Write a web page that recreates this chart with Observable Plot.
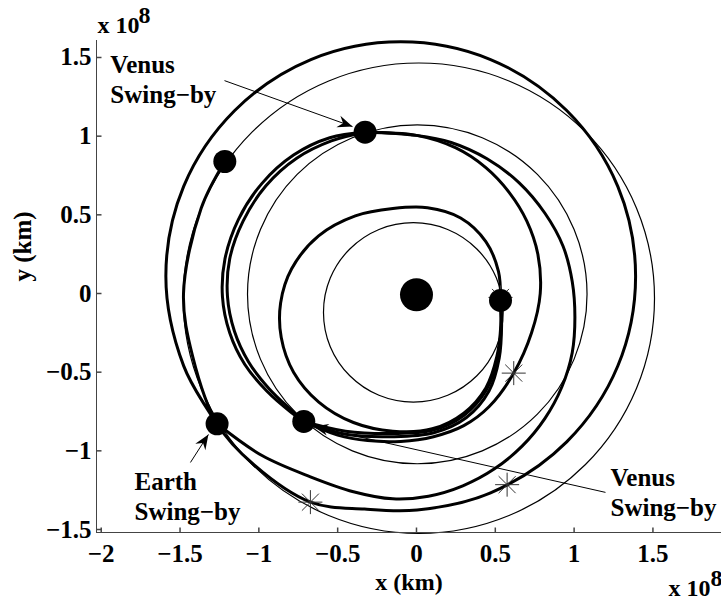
<!DOCTYPE html>
<html><head><meta charset="utf-8">
<script src="https://cdn.jsdelivr.net/npm/d3@7"></script>
<script src="https://cdn.jsdelivr.net/npm/@observablehq/plot@0.6"></script>
<style>
html,body{margin:0;padding:0;background:#fff;}
#chart svg{display:block;}
</style></head><body><div id="chart"></div>
<script>
// ---- data (units: 1e8 km) ----
const xTicks = [-2, -1.5, -1, -0.5, 0, 0.5, 1, 1.5];
const yTicks = [-1.5, -1, -0.5, 0, 0.5, 1, 1.5];

// planet orbits (thin)
const mercuryOrbit = [[0.550,-0.120],[0.507,0.098],[0.383,0.283],[0.198,0.407],[-0.020,0.450],[-0.238,0.407],[-0.423,0.283],[-0.547,0.098],[-0.590,-0.120],[-0.547,-0.338],[-0.423,-0.523],[-0.238,-0.647],[-0.020,-0.690],[0.198,-0.647],[0.383,-0.523],[0.507,-0.338]];
const venusOrbit = [[1.082,-0.005],[1.000,0.407],[0.767,0.757],[0.417,0.990],[0.005,1.072],[-0.407,0.990],[-0.757,0.757],[-0.990,0.407],[-1.072,-0.005],[-0.990,-0.417],[-0.757,-0.767],[-0.407,-1.000],[0.005,-1.082],[0.417,-1.000],[0.767,-0.767],[1.000,-0.417]];
const earthOrbit = [[1.510,-0.030],[1.396,0.542],[1.072,1.027],[0.587,1.351],[0.015,1.465],[-0.557,1.351],[-1.042,1.027],[-1.366,0.542],[-1.480,-0.030],[-1.366,-0.602],[-1.042,-1.087],[-0.557,-1.411],[0.015,-1.525],[0.587,-1.411],[1.072,-1.087],[1.396,-0.602]];

// spacecraft trajectory legs (thick)
const legLaunch = [[-1.216,0.839],[-1.366,0.542],[-1.478,0.0],[-1.420,-0.400],[-1.265,-0.828],[-1.030,-1.090],[-0.673,-1.326],[-0.330,-1.370],[0.004,-1.376],[0.470,-1.267],[0.953,-0.943],[1.277,-0.461],[1.390,0.110],[1.277,0.681],[0.953,1.163],[0.470,1.487],[-0.100,1.600],[-0.670,1.487],[-1.153,1.163],[-1.477,0.681],[-1.590,0.110],[-1.477,-0.460],[-1.265,-0.828]];
const legEarthVenus = [[-1.265,-0.828],[-0.980,-1.030],[-0.673,-1.165],[-0.400,-1.260],[-0.150,-1.305],[0.076,-1.288],[0.294,-1.222],[0.495,-1.114],[0.670,-0.970],[0.814,-0.795],[0.922,-0.594],[0.988,-0.376],[1.005,-0.150],[0.988,0.076],[0.930,0.300],[0.815,0.510],[0.650,0.705],[0.450,0.855],[0.220,0.960],[0.0,1.005],[-0.326,1.025]];
const legVenusVenusA = [[-0.326,1.025],[-0.550,0.990],[-0.780,0.880],[-0.980,0.700],[-1.130,0.470],[-1.215,0.220],[-1.231,-0.020],[-1.185,-0.250],[-1.090,-0.450],[-0.950,-0.620],[-0.800,-0.752],[-0.715,-0.813]];
const legVenusVenusB = [[-0.326,1.025],[-0.540,0.970],[-0.760,0.860],[-0.955,0.685],[-1.100,0.460],[-1.185,0.220],[-1.199,-0.020],[-1.155,-0.240],[-1.065,-0.435],[-0.935,-0.605],[-0.790,-0.745],[-0.715,-0.813]];
const legVenusReturn = [[-0.715,-0.813],[-0.500,-0.900],[-0.310,-0.935],[-0.100,-0.940],[0.108,-0.910],[0.300,-0.840],[0.460,-0.720],[0.617,-0.506],[0.730,-0.250],[0.785,0.0],[0.770,0.250],[0.700,0.460],[0.590,0.640],[0.440,0.800],[0.250,0.925],[0.0,1.005],[-0.326,1.025]];
const legVenusMercuryA = [[-0.715,-0.813],[-0.450,-0.875],[-0.150,-0.890],[0.100,-0.870],[0.300,-0.775],[0.445,-0.610],[0.515,-0.410],[0.537,-0.200],[0.533,-0.044]];
const legVenusMercuryB = [[-0.715,-0.813],[-0.450,-0.895],[-0.150,-0.910],[0.110,-0.885],[0.315,-0.790],[0.460,-0.620],[0.525,-0.410],[0.540,-0.200],[0.533,-0.044]];
const legMercuryLoop = [[0.533,-0.044],[0.520,0.140],[0.440,0.330],[0.280,0.480],[0.070,0.545],[-0.150,0.540],[-0.388,0.493],[-0.621,0.366],[-0.792,0.157],[-0.862,-0.060],[-0.858,-0.280],[-0.780,-0.500],[-0.620,-0.690],[-0.400,-0.820],[-0.150,-0.875],[0.100,-0.860],[0.300,-0.760],[0.440,-0.600],[0.510,-0.400],[0.535,-0.200],[0.533,-0.044]];

// bodies (filled circles)
const bodyNames = ["Sun", "Earth (launch)", "Earth swing-by", "Venus swing-by 1", "Venus swing-by 2", "Mercury"];
const bodyX = [0, -1.216, -1.265, -0.326, -0.715, 0.533];
const bodyY = [-0.008, 0.839, -0.828, 1.025, -0.813, -0.044];

// asterisk markers
const starX = [0.617, 0.575, -0.673, 0.533];
const starY = [-0.506, -1.215, -1.326, -0.025];

// annotations
const noteText = ["Venus\nSwing\u2212by", "Earth\nSwing\u2212by", "Venus\nSwing\u2212by"];
const noteX = [-1.942, -1.789, 1.231];
const noteY = [1.209, -1.442, -1.417];
const arrowX1 = [-1.218, -1.434, 1.199];
const arrowY1 = [1.353, -1.074, -1.264];
const arrowX2 = [-0.406, -1.320, -0.654];
const arrowY2 = [1.061, -0.896, -0.845];

// ---- build tables ----
const rows = (pts, id) => pts.map(([x, y]) => ({id, x, y}));
const orbitRows = [...rows(mercuryOrbit, "mercury"), ...rows(venusOrbit, "venus"), ...rows(earthOrbit, "earth")];
const legRows = [
  ...rows(legLaunch, "launch"), ...rows(legEarthVenus, "ev"),
  ...rows(legVenusVenusA, "vva"), ...rows(legVenusVenusB, "vvb"),
  ...rows(legVenusReturn, "vr"), ...rows(legVenusMercuryA, "vma"),
  ...rows(legVenusMercuryB, "vmb"), ...rows(legMercuryLoop, "ml")
];
const bodies = bodyNames.map((name, i) => ({name, x: bodyX[i], y: bodyY[i]}));
const stars = starX.map((x, i) => ({x, y: starY[i]}));
const notes = noteText.map((text, i) => ({text, x: noteX[i], y: noteY[i]}));
const arrows = arrowX1.map((x1, i) => ({x1, y1: arrowY1[i], x2: arrowX2[i], y2: arrowY2[i]}));

const xMin = -2.03, xMax = 1.935, yMin = -1.519, yMax = 1.608;
const FONT = "'Liberation Serif', 'Times New Roman', serif";
const AX = "#444";

const asterisk = {draw(c) { const a = 12, b = 8.5;
  c.moveTo(-a, 0); c.lineTo(a, 0); c.moveTo(0, -a); c.lineTo(0, a);
  c.moveTo(-b, -b); c.lineTo(b, b); c.moveTo(-b, b); c.lineTo(b, -b); }};
const tickRight = {draw(c) { c.moveTo(0, 0); c.lineTo(5, 0); }};
const tickUp = {draw(c) { c.moveTo(0, 0); c.lineTo(0, -5); }};
const arrowHead = {draw(c) { c.moveTo(0, 0); c.lineTo(-6, 15); c.lineTo(0, 10); c.lineTo(6, 15); c.closePath(); }};

const fmt = d => (d < 0 ? "\u2212" : "") + String(Math.abs(d));
const tickTxt = {fontFamily: FONT, fontSize: 25, fontWeight: "bold", fill: "black"};
const txt = {fontFamily: FONT, fontSize: 25, fontWeight: "bold", fill: "black"};
const small = {fontFamily: FONT, fontSize: 24, fontWeight: "bold", fill: "black"};

const chart = Plot.plot({
  width: 721, height: 609,
  marginLeft: 96, marginRight: 0, marginTop: 40, marginBottom: 77,
  x: {domain: [xMin, xMax]},
  y: {domain: [yMin, yMax]},
  style: {fontFamily: FONT, background: "white", color: "black"},
  marks: [
    Plot.line(orbitRows, {x: "x", y: "y", z: "id", curve: "catmull-rom-closed", stroke: "black", strokeWidth: 1.2}),
    Plot.line(legRows, {x: "x", y: "y", z: "id", curve: "catmull-rom", stroke: "black", strokeWidth: 3}),
    Plot.link(arrows, {x1: "x1", y1: "y1", x2: "x2", y2: "y2", stroke: "black", strokeWidth: 1}),
    Plot.dot(arrows, {x: "x2", y: "y2", symbol: arrowHead, r: 8, fill: "black", stroke: "none",
      rotate: d => Math.atan2(d.x2 - d.x1, d.y2 - d.y1) * 180 / Math.PI}),
    Plot.dot(stars, {x: "x", y: "y", symbol: asterisk, r: 12, fill: "none", stroke: "#333", strokeWidth: 1}),
    Plot.dot(bodies, {filter: d => d.name === "Sun", x: "x", y: "y", r: 16.5, fill: "black", stroke: "none"}),
    Plot.dot(bodies, {filter: d => d.name !== "Sun", x: "x", y: "y", r: 11.5, fill: "black", stroke: "none"}),
    // axes
    Plot.ruleX([xMin], {stroke: AX, strokeWidth: 1}),
    Plot.ruleY([yMin], {stroke: AX, strokeWidth: 1}),
    Plot.dot(yTicks, {x: () => xMin, y: d => d, symbol: tickRight, r: 5, fill: "none", stroke: AX}),
    Plot.dot(xTicks, {x: d => d, y: () => yMin, symbol: tickUp, r: 5, fill: "none", stroke: AX}),
    Plot.axisY(yTicks, {anchor: "left", tickSize: 0, tickPadding: 5, label: null, tickFormat: fmt, ...tickTxt}),
    Plot.axisX(xTicks, {anchor: "bottom", tickSize: 0, tickPadding: 12, label: null, tickFormat: fmt, ...tickTxt}),
    Plot.text(["x (km)"], {frameAnchor: "bottom", dy: 57, lineAnchor: "bottom", text: d => d, ...small}),
    Plot.text(["y (km)"], {frameAnchor: "left", rotate: -90, dx: -66, dy: -5, lineAnchor: "bottom", text: d => d, ...txt}),
    Plot.text(["x 10"], {frameAnchor: "top-left", dx: 1, dy: -8, textAnchor: "start", lineAnchor: "bottom", text: d => d, ...small}),
    Plot.text(["8"], {frameAnchor: "top-left", dx: 42, dy: -18, textAnchor: "start", lineAnchor: "bottom", text: d => d, ...small}),
    Plot.text(["x 10"], {frameAnchor: "bottom-right", dx: -53, dy: 63, textAnchor: "start", lineAnchor: "bottom", text: d => d, ...small}),
    Plot.text(["8"], {frameAnchor: "bottom-right", dx: -11, dy: 53, textAnchor: "start", lineAnchor: "bottom", text: d => d, ...small}),
    // annotations
    Plot.text(notes, {x: "x", y: "y", text: "text", textAnchor: "start", lineAnchor: "bottom", lineHeight: 1.2, ...txt})
  ]
});
document.getElementById("chart").appendChild(chart);
</script>
</body></html>
